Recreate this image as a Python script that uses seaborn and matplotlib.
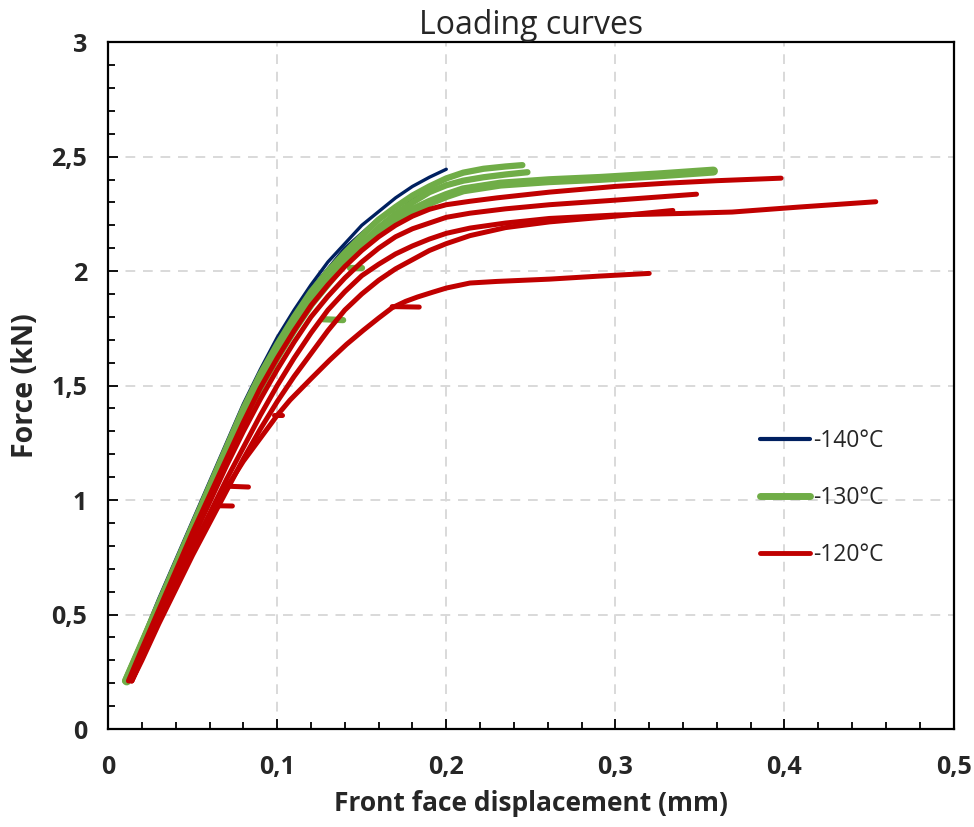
import pandas as pd
import matplotlib
matplotlib.use("Agg")
import matplotlib.pyplot as plt
from matplotlib.lines import Line2D
from matplotlib.ticker import MultipleLocator, FuncFormatter
import seaborn as sns

# ---- curves (displacement mm, force kN) ----
# -140°C
x_140_a = [0.010, 0.02, 0.03, 0.04, 0.05, 0.06, 0.07, 0.08, 0.09, 0.10, 0.11, 0.12, 0.13, 0.14, 0.15,
           0.16, 0.17, 0.18, 0.19, 0.200]
f_140_a = [0.22, 0.39, 0.57, 0.74, 0.91, 1.08, 1.25, 1.42, 1.57, 1.71, 1.83, 1.94, 2.04, 2.12, 2.20,
           2.26, 2.32, 2.37, 2.41, 2.445]
x_140_b = [0.011, 0.02, 0.04, 0.06, 0.08, 0.10, 0.12, 0.14, 0.16, 0.175, 0.187]
f_140_b = [0.22, 0.38, 0.72, 1.06, 1.39, 1.68, 1.92, 2.10, 2.23, 2.30, 2.34]

# -130°C
x_130_a = [0.010, 0.02, 0.03, 0.04, 0.05, 0.06, 0.07, 0.08, 0.09, 0.10, 0.11, 0.12, 0.13, 0.14, 0.15,
           0.16, 0.17, 0.18, 0.19, 0.20, 0.21, 0.222, 0.235, 0.245]
f_130_a = [0.21, 0.38, 0.55, 0.72, 0.89, 1.06, 1.23, 1.40, 1.55, 1.68, 1.80, 1.91, 2.00, 2.08, 2.155,
           2.225, 2.28, 2.33, 2.37, 2.405, 2.43, 2.447, 2.457, 2.463]
x_130_b = [0.011, 0.02, 0.03, 0.04, 0.05, 0.06, 0.07, 0.08, 0.09, 0.10, 0.11, 0.12, 0.13, 0.14, 0.15,
           0.16, 0.17, 0.18, 0.19, 0.20, 0.21, 0.222, 0.235, 0.248]
f_130_b = [0.21, 0.37, 0.54, 0.71, 0.88, 1.04, 1.20, 1.36, 1.51, 1.64, 1.76, 1.87, 1.96, 2.04, 2.12,
           2.19, 2.25, 2.30, 2.345, 2.375, 2.395, 2.41, 2.422, 2.432]
x_130_c = [0.011, 0.02, 0.03, 0.04, 0.05, 0.06, 0.07, 0.08, 0.09, 0.10, 0.11, 0.12, 0.13, 0.14, 0.15,
           0.16, 0.17, 0.18, 0.19, 0.20, 0.21, 0.232, 0.261, 0.291, 0.325, 0.358]
f_130_c = [0.21, 0.36, 0.53, 0.70, 0.87, 1.03, 1.19, 1.35, 1.50, 1.63, 1.75, 1.86, 1.95, 2.04, 2.11,
           2.17, 2.22, 2.265, 2.30, 2.33, 2.355, 2.38, 2.395, 2.405, 2.42, 2.437]
x_130_s1 = [0.127, 0.139]
f_130_s1 = [1.79, 1.786]
x_130_s2 = [0.143, 0.150]
f_130_s2 = [2.013, 2.013]

# -120°C
x_120_a = [0.012, 0.02, 0.03, 0.04, 0.05, 0.06, 0.07, 0.08, 0.09, 0.10, 0.11, 0.12, 0.13, 0.14, 0.15,
           0.16, 0.17, 0.18, 0.19, 0.20, 0.214, 0.23, 0.261, 0.30, 0.33, 0.36, 0.398]
f_120_a = [0.21, 0.35, 0.52, 0.69, 0.86, 1.02, 1.18, 1.34, 1.49, 1.62, 1.74, 1.85, 1.94, 2.02, 2.09,
           2.15, 2.20, 2.24, 2.27, 2.29, 2.305, 2.32, 2.345, 2.37, 2.384, 2.395, 2.406]
x_120_b = [0.013, 0.02, 0.03, 0.04, 0.05, 0.06, 0.07, 0.08, 0.09, 0.10, 0.11, 0.12, 0.13, 0.14, 0.15,
           0.16, 0.17, 0.18, 0.19, 0.20, 0.214, 0.235, 0.261, 0.30, 0.348]
f_120_b = [0.21, 0.33, 0.50, 0.67, 0.83, 0.99, 1.15, 1.30, 1.44, 1.57, 1.69, 1.80, 1.89, 1.97, 2.04,
           2.10, 2.15, 2.185, 2.21, 2.235, 2.253, 2.272, 2.29, 2.31, 2.336]
x_120_c = [0.014, 0.02, 0.03, 0.04, 0.05, 0.06, 0.07, 0.08, 0.09, 0.10, 0.11, 0.12, 0.13, 0.14, 0.15,
           0.16, 0.17, 0.18, 0.19, 0.20, 0.214, 0.235, 0.261, 0.30, 0.34, 0.369, 0.409, 0.454]
f_120_c = [0.21, 0.31, 0.47, 0.63, 0.79, 0.94, 1.09, 1.23, 1.37, 1.50, 1.62, 1.73, 1.83, 1.91, 1.98,
           2.03, 2.075, 2.11, 2.14, 2.165, 2.188, 2.21, 2.23, 2.245, 2.252, 2.258, 2.28, 2.303]
x_120_d = [0.014, 0.02, 0.03, 0.04, 0.05, 0.06, 0.07, 0.08, 0.09, 0.10, 0.11, 0.12, 0.13, 0.14, 0.15,
           0.16, 0.17, 0.18, 0.19, 0.20, 0.214, 0.235, 0.261, 0.30, 0.334]
f_120_d = [0.21, 0.30, 0.46, 0.61, 0.76, 0.90, 1.04, 1.18, 1.31, 1.43, 1.54, 1.64, 1.74, 1.83, 1.90,
           1.96, 2.01, 2.05, 2.09, 2.12, 2.155, 2.19, 2.215, 2.24, 2.265]
x_120_e = [0.014, 0.02, 0.03, 0.04, 0.05, 0.06, 0.068, 0.08, 0.09, 0.10, 0.1076, 0.12, 0.131, 0.141,
           0.151, 0.16, 0.168, 0.176, 0.183, 0.192, 0.200, 0.214, 0.23, 0.261, 0.29, 0.32]
f_120_e = [0.21, 0.31, 0.48, 0.64, 0.79, 0.93, 1.03, 1.17, 1.27, 1.37, 1.437, 1.53, 1.611, 1.68,
           1.742, 1.795, 1.84, 1.868, 1.887, 1.908, 1.926, 1.948, 1.955, 1.965, 1.978, 1.99]
x_120_s1 = [0.168, 0.184]
f_120_s1 = [1.845, 1.843]
x_120_s2 = [0.072, 0.083]
f_120_s2 = [1.06, 1.057]
x_120_s3 = [0.066, 0.0735]
f_120_s3 = [0.975, 0.974]
x_120_s4 = [0.098, 0.103]
f_120_s4 = [1.37, 1.37]

temps = ["-140°C", "-130°C", "-120°C"]
colors = ["#002060", "#70AD47", "#C00000"]
widths = [2.4, 4.5, 3.6]

curves = [
    ("-140°C", "a", x_140_a, f_140_a), ("-140°C", "b", x_140_b, f_140_b),
    ("-130°C", "a", x_130_a, f_130_a), ("-130°C", "b", x_130_b, f_130_b),
    ("-130°C", "c", x_130_c, f_130_c), ("-130°C", "s1", x_130_s1, f_130_s1),
    ("-130°C", "s2", x_130_s2, f_130_s2),
    ("-120°C", "a", x_120_a, f_120_a), ("-120°C", "b", x_120_b, f_120_b),
    ("-120°C", "c", x_120_c, f_120_c), ("-120°C", "d", x_120_d, f_120_d),
    ("-120°C", "e", x_120_e, f_120_e), ("-120°C", "s1", x_120_s1, f_120_s1),
    ("-120°C", "s2", x_120_s2, f_120_s2), ("-120°C", "s3", x_120_s3, f_120_s3),
    ("-120°C", "s4", x_120_s4, f_120_s4),
]
rows = []
for t, c, xs, fs in curves:
    for xv, fv in zip(xs, fs):
        rows.append({"temp": t, "curve": t + c, "disp": xv, "force": fv})
df = pd.DataFrame(rows)

sns.set_style("white")
plt.rcParams["font.family"] = ["Open Sans", "DejaVu Sans"]

fig = plt.figure(figsize=(9.74, 8.27), dpi=100)
ax = fig.add_axes([0.111, 0.1185, 0.868, 0.8305])

for t, col, lw in zip(temps[:2], colors[:2], widths[:2]):
    sub = df[df["temp"] == t]
    sns.lineplot(data=sub, x="disp", y="force", units="curve", estimator=None,
                 sort=False, color=col, lw=lw, ax=ax, legend=False,
                 solid_capstyle="round", solid_joinstyle="round")
# thick green band
g3 = df[df["curve"] == "-130°Cc"]
sns.lineplot(data=g3, x="disp", y="force", estimator=None, sort=False, color=colors[1],
             lw=6.5, ax=ax, legend=False, solid_capstyle="round")
# red curves on top
red = df[df["temp"] == "-120°C"]
sns.lineplot(data=red, x="disp", y="force", units="curve", estimator=None, sort=False,
             color=colors[2], lw=widths[2], ax=ax, legend=False, solid_capstyle="round",
             solid_joinstyle="round")

ax.set_xlim(0, 0.5)
ax.set_ylim(0, 3)
ax.xaxis.set_major_locator(MultipleLocator(0.1))
ax.xaxis.set_minor_locator(MultipleLocator(0.02))
ax.yaxis.set_major_locator(MultipleLocator(0.5))
ax.yaxis.set_minor_locator(MultipleLocator(0.1))
fmt = FuncFormatter(lambda v, _: f"{v:g}".replace(".", ","))
ax.xaxis.set_major_formatter(fmt)
ax.yaxis.set_major_formatter(fmt)
ax.tick_params(which="both", direction="in", bottom=True, left=True, top=False, right=False,
               width=1.3, color="black")
ax.tick_params(which="major", length=7, labelsize=18)
ax.tick_params(which="minor", length=5)
ax.tick_params(axis="x", pad=19)
ax.tick_params(axis="y", pad=15)
for lab in ax.get_xticklabels() + ax.get_yticklabels():
    lab.set_fontweight("bold")

ax.grid(True, which="major", ls=(0, (5, 4)), color="#d9d9d9", lw=1.4)
for s in ax.spines.values():
    s.set_color("black")
    s.set_linewidth(1.6)

ax.set_title("Loading curves", fontsize=23, pad=3)
ax.set_xlabel("Front face displacement (mm)", fontsize=19, fontweight="bold", labelpad=7)
ax.set_ylabel("Force (kN)", fontsize=20.5, fontweight="bold", labelpad=8)

handles = [Line2D([], [], color=c, lw=w, solid_capstyle="round") for c, w in zip(colors, [3, 5, 3.5])]
ax.legend(handles, temps, loc="center left", bbox_to_anchor=(0.771, 0.336), frameon=False,
          fontsize=16.5, handlelength=2.2, handletextpad=0.1, labelspacing=1.45,
          borderpad=0, borderaxespad=0)

fig.savefig("out.png", dpi=100)
